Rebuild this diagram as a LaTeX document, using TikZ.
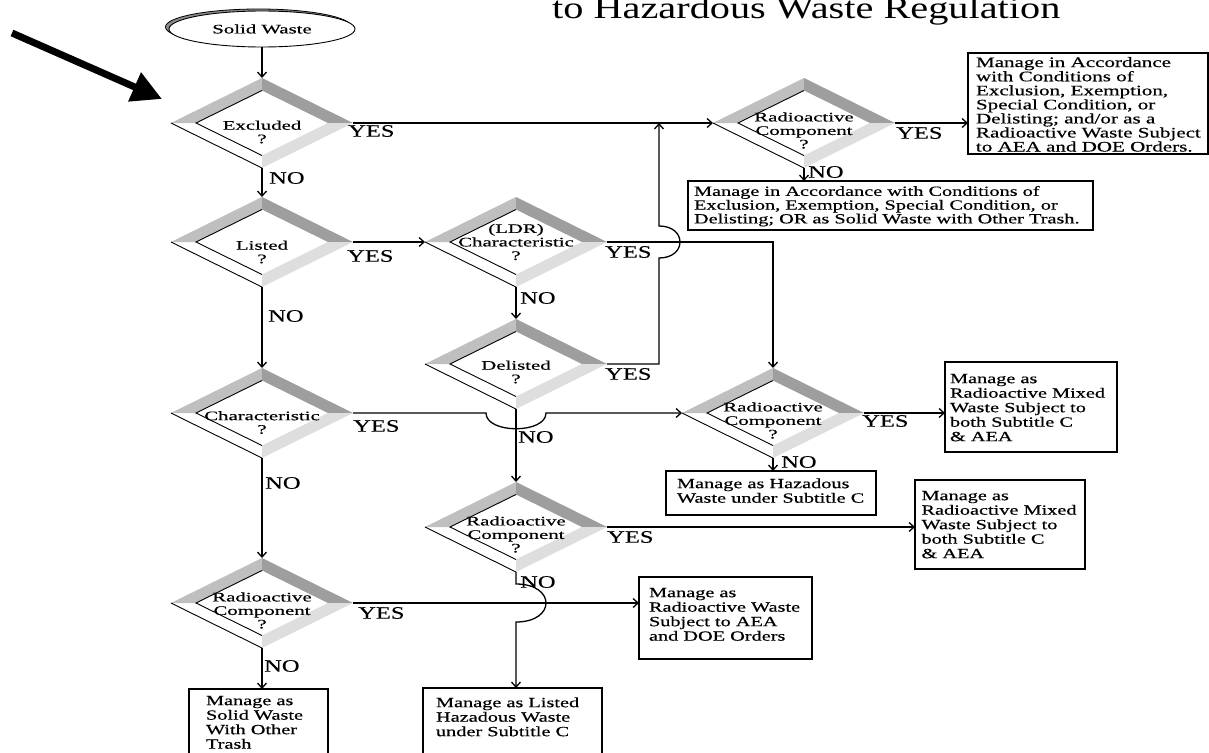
\documentclass[tikz,border=0pt]{standalone}
\usepackage{fontspec}
\setmainfont{Liberation Serif}
\newfontfamily\boxfont[FakeStretch=1.45,FakeBold=0.5]{Liberation Serif}
\newfontfamily\dmfont[FakeStretch=1.6,FakeBold=0.5]{Liberation Serif}
\newfontfamily\lblfont[FakeStretch=1.4,FakeBold=0.3]{Liberation Serif}
\newfontfamily\ttlfont[FakeStretch=1.3]{Liberation Serif}
\usetikzlibrary{arrows.meta,shapes.geometric,calc}

\tikzset{
  conn/.style={line width=1.3pt, -{Straight Barb[length=5pt,width=9pt]}},
  dshape/.style={diamond, minimum width=182pt, minimum height=90pt, inner sep=0pt, outer sep=0pt, draw=none},
  dtext/.style={font=\dmfont\fontsize{13}{13.5}\selectfont, align=center, inner sep=0pt},
  lbl/.style={font=\lblfont\fontsize{17.5}{17.5}\selectfont, inner sep=0pt, anchor=west},
  boxst/.style={draw, line width=1.1pt, inner sep=0pt, outer sep=0pt, anchor=north west, font=\boxfont},
  bandA/.style={fill=black!25},
  bandB/.style={fill=black!38},
  bandC/.style={fill=black!13},
  dline/.style={line width=0.9pt},
}

\newcommand\bevd[5]{%
  \begin{scope}[shift={(#2,#3)}]
    \fill[white] (-91,0) -- (0,-45) -- (91,0) -- (0,45) -- cycle;
    \fill[bandA] (-91,0) -- (0,-45) -- (0,-32.5) -- (-66,0) -- cycle;
    \fill[bandB] (0,-45) -- (91,0) -- (66,0) -- (0,-32.5) -- cycle;
    \fill[bandC] (91,0) -- (0,45) -- (0,32.5) -- (66,0) -- cycle;
    \draw[dline] (-91,0) -- (0,45);
    \draw[dline] (0,-32.5) -- (-66,0) -- (0,32.5);
  \end{scope}
  \node[dshape] (#1) at (#2,#3) {};
  \node[dtext] at (#2,#3+#5) {#4};
}

% name, x, y, w, h, padx, pady, {size}{skip}, text
\newcommand\mgbox[9]{%
  \node[boxst] (#1) at (#2,#3) {\parbox[t][#5pt][t]{#4pt}{\fontsize#8\selectfont\vspace*{#7pt}\par\noindent\hspace*{#6pt}\begin{tabular}[t]{@{}l@{}}#9\end{tabular}}};
}

\begin{document}
\begin{tikzpicture}[x=1pt,y=-1pt]
\useasboundingbox (0,0) rectangle (1209,752);
\clip (0,0) rectangle (1209,752);
\fill[white] (0,0) rectangle (1209,752);

% title (cut at top, as in the reference)
\node[font=\ttlfont\fontsize{31}{32}\selectfont, anchor=base west, inner sep=0pt] (title) at (552,19) {to Hazardous Waste Regulation};

% big pointer arrow
\coordinate (pa) at (12,33);
\coordinate (pb) at (162,99);
\draw[line width=7pt, -{Triangle[length=30pt,width=30pt]}] (pa) -- (pb);

% start ellipse
\draw[line width=0.8pt, fill=black!45] (258.5,27) ellipse [x radius=93, y radius=18];
\node[ellipse, draw, line width=0.9pt, fill=white, minimum width=186pt, minimum height=36pt, inner sep=0pt,
      font=\dmfont\fontsize{13}{13.5}\selectfont] (sw) at (262,29) {Solid Waste};

% diamonds
\bevd{exc}{262}{123}{Excluded\\?}{9}
\bevd{lst}{262}{242}{Listed\\?}{10}
\bevd{chr}{262}{413}{Characteristic\\?}{9.5}
\bevd{rad4}{262}{603}{Radioactive\\Component\\?}{7.5}
\bevd{ldr}{516}{242}{(LDR)\\Characteristic\\?}{0}
\bevd{del}{516}{364}{Delisted\\?}{8}
\bevd{rad3}{516}{527}{Radioactive\\Component\\?}{7.5}
\bevd{rad1}{804}{123}{Radioactive\\Component\\?}{7.5}
\bevd{rad2}{773}{413}{Radioactive\\Component\\?}{7.5}

% boxes
\mgbox{b1}{968}{53}{240}{101}{8}{4}{{14.5}{13.3}}{Manage in Accordance\\ with Conditions of\\ Exclusion, Exemption,\\ Special Condition, or\\ Delisting; and/or as a\\ Radioactive Waste Subject\\ to AEA and DOE Orders.}
\mgbox{b2}{688}{181}{405}{49}{6}{5}{{14}{13.5}}{Manage in Accordance with Conditions of\\ Exclusion, Exemption, Special Condition, or\\ Delisting; OR as Solid Waste with Other Trash.}
\mgbox{b3}{945}{362}{172}{90}{5}{11}{{14}{14.5}}{Manage as\\ Radioactive Mixed\\ Waste Subject to\\ both Subtitle C\\ \& AEA}
\mgbox{b4}{666}{471}{210}{44}{11}{7}{{14}{14.5}}{Manage as Hazadous\\ Waste under Subtitle C}
\mgbox{b5}{915}{480}{170}{89}{6.5}{10}{{14}{14.5}}{Manage as\\ Radioactive Mixed\\ Waste Subject to\\ both Subtitle C\\ \& AEA}
\mgbox{b6}{639}{577}{173}{82}{10}{10}{{14}{14.5}}{Manage as\\ Radioactive Waste\\ Subject to AEA\\ and DOE Orders}
\mgbox{b7}{189}{689}{139}{80}{17}{6}{{14}{14.5}}{Manage as\\ Solid Waste\\ With Other\\ Trash}
\mgbox{b8}{423}{688}{179}{80}{13}{9}{{14}{14.5}}{Manage as Listed\\ Hazadous Waste\\ under Subtitle C}

% connectors
\draw[conn] (sw) -- (exc);
\draw[conn] (exc.east) -- (rad1.west);
\draw[conn] (exc) -- (lst);
\draw[conn] (lst) -- (ldr);
\draw[conn] (lst) -- (chr);
\draw[conn] (ldr.east) -| (rad2.north);
\draw[conn] (ldr) -- (del);

\coordinate (riseB) at (659,364);
\coordinate (riseT) at (659,123);
\coordinate (x1) at (659,242);
\draw[conn] (del.east) -- (riseB) -- ($(x1)+(0,16)$) .. controls ($(x1)+(28,16)$) and ($(x1)+(28,-16)$) .. ($(x1)+(0,-16)$) -- (riseT);

\coordinate (x2) at (516,413);
\draw[conn] (chr.east) -- ($(x2)+(-30,0)$) .. controls ($(x2)+(-30,21)$) and ($(x2)+(30,21)$) .. ($(x2)+(30,0)$) -- (rad2.west);
\draw[conn] (del) -- (rad3);
\draw[conn] (chr) -- (rad4);

\draw[conn] (rad4.east) -- (rad4.east -| b6.west);
\coordinate (x3) at (516,603);
\draw[conn] (rad3.south) -- ($(x3)+(0,-19)$) .. controls ($(x3)+(40,-19)$) and ($(x3)+(40,19)$) .. ($(x3)+(0,19)$) -- (rad3.south |- b8.north);
\draw[conn] (rad4.south) -- (rad4.south |- b7.north);
\draw[conn] (rad3.east) -- (rad3.east -| b5.west);
\draw[conn] (rad2.east) -- (rad2.east -| b3.west);
\draw[conn] (rad2.south) -- (rad2.south |- b4.north);
\draw[conn] (rad1.east) -- (rad1.east -| b1.west);
\draw[conn] (rad1.south) -- (rad1.south |- b2.north);

% labels
\node[lbl] (y1) at (348,131) {YES};
\node[lbl] (n1) at (269,178) {NO};
\node[lbl] (y2) at (347,256) {YES};
\node[lbl] (n2) at (268,316) {NO};
\node[lbl] (y3) at (605,252) {YES};
\node[lbl] (n3) at (520,298) {NO};
\node[lbl] (y4) at (605,374) {YES};
\node[lbl] (n4) at (518,437) {NO};
\node[lbl] (y5) at (353,426) {YES};
\node[lbl] (n5) at (265,483) {NO};
\node[lbl] (y6) at (358,613) {YES};
\node[lbl] (n6) at (264,666) {NO};
\node[lbl] (y7) at (607,537) {YES};
\node[lbl] (n7) at (520,582) {NO};
\node[lbl] (y8) at (862,421) {YES};
\node[lbl] (n8) at (781,462) {NO};
\node[lbl] (y9) at (896,133) {YES};
\node[lbl] (n9) at (808,172) {NO};
\end{tikzpicture}
\end{document}
